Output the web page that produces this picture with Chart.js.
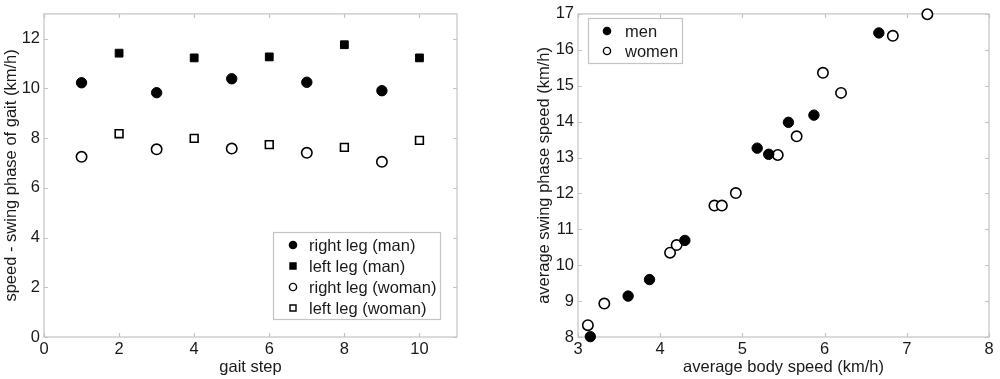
<!DOCTYPE html>
<html>
<head>
<meta charset="utf-8">
<script src="https://cdn.jsdelivr.net/npm/chart.js@4/dist/chart.umd.min.js"></script>
<style>
  html, body { margin: 0; padding: 0; background: #fff; }
  #wrap { position: relative; width: 1000px; height: 379px; }
  .box { position: absolute; top: 0; height: 379px; }
  #left { left: 0; width: 500px; }
  #right { left: 500px; width: 500px; }
</style>
</head>
<body>
<div id="wrap">
  <div class="box" id="left"><canvas id="gaitChart"></canvas></div>
  <div class="box" id="right"><canvas id="speedChart"></canvas></div>
</div>
<script>
"use strict";

// left panel: speed per gait step
const rightSteps = [1, 3, 5, 7, 9];
const leftSteps = [2, 4, 6, 8, 10];
const rightLegMan = [10.23, 9.83, 10.39, 10.25, 9.91];
const leftLegMan = [11.42, 11.23, 11.27, 11.76, 11.23];
const rightLegWoman = [7.25, 7.55, 7.58, 7.41, 7.05];
const leftLegWoman = [8.18, 7.99, 7.74, 7.63, 7.91];

// right panel: swing speed vs body speed
const menBody = [3.15, 3.61, 3.87, 4.30, 5.18, 5.32, 5.56, 5.87, 6.66];
const menSwing = [8.01, 9.14, 9.60, 10.69, 13.26, 13.09, 13.98, 14.18, 16.47];
const womenBody = [3.12, 3.32, 4.12, 4.20, 4.66, 4.75, 4.92, 5.43, 5.66, 5.98, 6.20, 6.83, 7.25];
const womenSwing = [8.33, 8.93, 10.35, 10.56, 11.66, 11.66, 12.01, 13.07, 13.59, 15.36, 14.80, 16.39, 16.99];

const FONT = "'Liberation Sans', Arial, sans-serif";
const TXT = '#1a1a1a';
const AXIS = '#c4c4c4';
const FS = 16.5;

Chart.defaults.font.family = FONT;
Chart.defaults.font.size = FS;
Chart.defaults.color = TXT;

function pts(xs, ys) {
    return xs.map((x, i) => ({ x: x, y: ys[i] }));
}

function series(label, data, shape, filled) {
    return {
        label: label,
        data: data,
        clip: false,
        pointStyle: shape,
        pointRadius: shape === 'rect' ? 5.5 : 5.2,
        pointHoverRadius: shape === 'rect' ? 5.5 : 5.2,
        pointBackgroundColor: filled ? '#000' : '#fff',
        pointBorderColor: '#000',
        pointBorderWidth: filled ? 1 : 1.6,
        showLine: false
    };
}

function drawMarker(ctx, shape, filled, x, y) {
    ctx.save();
    ctx.beginPath();
    if (shape === 'rect') {
        ctx.rect(x - 3, y - 3, 6, 6);
    } else {
        ctx.arc(x, y, 3.6, 0, Math.PI * 2);
    }
    ctx.fillStyle = filled ? '#000' : '#fff';
    ctx.fill();
    ctx.lineWidth = 1.4;
    ctx.strokeStyle = '#000';
    ctx.stroke();
    ctx.restore();
}

// box round the plot with small inward ticks on all four sides
const boxPlugin = {
    id: 'boxPlugin',
    beforeDatasetsDraw(chart) {
        const ctx = chart.ctx;
        const a = chart.chartArea;
        const xs = chart.scales.x, ys = chart.scales.y;
        ctx.save();
        ctx.strokeStyle = AXIS;
        ctx.lineWidth = 1.2;
        ctx.strokeRect(a.left, a.top, a.right - a.left, a.bottom - a.top);
        ctx.beginPath();
        xs.ticks.forEach(t => {
            const px = Math.round(xs.getPixelForValue(t.value)) + 0.5;
            ctx.moveTo(px, a.bottom); ctx.lineTo(px, a.bottom - 4);
            ctx.moveTo(px, a.top); ctx.lineTo(px, a.top + 4);
        });
        ys.ticks.forEach(t => {
            const py = Math.round(ys.getPixelForValue(t.value)) + 0.5;
            ctx.moveTo(a.left, py); ctx.lineTo(a.left + 4, py);
            ctx.moveTo(a.right, py); ctx.lineTo(a.right - 4, py);
        });
        ctx.stroke();
        ctx.restore();
    }
};

// legend box inside the plot area
const boxLegend = {
    id: 'boxLegend',
    afterDraw(chart, args, opts) {
        const ctx = chart.ctx;
        ctx.save();
        ctx.fillStyle = '#fff';
        ctx.fillRect(opts.x, opts.y, opts.w, opts.h);
        ctx.strokeStyle = AXIS;
        ctx.lineWidth = 1.2;
        ctx.strokeRect(opts.x + 0.5, opts.y + 0.5, opts.w, opts.h);
        ctx.font = FS + 'px ' + FONT;
        ctx.fillStyle = TXT;
        ctx.textBaseline = 'middle';
        chart.data.datasets.forEach((ds, i) => {
            const cy = opts.y + opts.first + i * opts.step;
            drawMarker(ctx, ds.pointStyle, ds.pointBackgroundColor === '#000', opts.x + opts.mx, cy);
            ctx.fillText(ds.label, opts.x + opts.tx, cy + 1);
        });
        ctx.restore();
    }
};

function axes(xmin, xmax, xstep, xtitle, ymin, ymax, ystep, ytitle, yWidth) {
    return {
        x: {
            type: 'linear', min: xmin, max: xmax,
            grid: { display: false, drawTicks: false },
            border: { display: false },
            ticks: { stepSize: xstep, includeBounds: false, padding: 3, color: TXT },
            title: { display: true, text: xtitle, color: TXT, padding: { top: 0, bottom: 2 } },
            afterFit(s) { s.height = 42; }
        },
        y: {
            type: 'linear', min: ymin, max: ymax,
            grid: { display: false, drawTicks: false },
            border: { display: false },
            ticks: { stepSize: ystep, includeBounds: false, padding: 4, color: TXT },
            title: { display: true, text: ytitle, color: TXT, padding: { top: 2, bottom: 0 } },
            afterFit(s) { s.width = yWidth; }
        }
    };
}

new Chart(document.getElementById('gaitChart'), {
    type: 'scatter',
    data: {
        datasets: [
            series('right leg (man)', pts(rightSteps, rightLegMan), 'circle', true),
            series('left leg (man)', pts(leftSteps, leftLegMan), 'rect', true),
            series('right leg (woman)', pts(rightSteps, rightLegWoman), 'circle', false),
            series('left leg (woman)', pts(leftSteps, leftLegWoman), 'rect', false)
        ]
    },
    options: {
        responsive: true,
        maintainAspectRatio: false,
        animation: false,
        layout: { padding: { left: 0, right: 43, top: 10, bottom: 0 } },
        scales: axes(0, 11, 2, 'gait step', 0, 13, 2, 'speed - swing phase of gait (km/h)', 44),
        plugins: {
            legend: { display: false },
            tooltip: { enabled: false },
            boxLegend: { x: 273, y: 232, w: 167, h: 87, mx: 20, tx: 36, first: 13, step: 21 }
        }
    },
    plugins: [boxPlugin, boxLegend]
});

new Chart(document.getElementById('speedChart'), {
    type: 'scatter',
    data: {
        datasets: [
            series('men', pts(menBody, menSwing), 'circle', true),
            series('women', pts(womenBody, womenSwing), 'circle', false)
        ]
    },
    options: {
        responsive: true,
        maintainAspectRatio: false,
        animation: false,
        layout: { padding: { left: 33, right: 11, top: 10, bottom: 0 } },
        scales: axes(3, 8, 1, 'average body speed (km/h)', 8, 17, 1, 'average swing phase speed (km/h)', 45),
        plugins: {
            legend: { display: false },
            tooltip: { enabled: false },
            boxLegend: { x: 88, y: 18, w: 94, h: 45, mx: 19, tx: 37, first: 13, step: 20 }
        }
    },
    plugins: [boxPlugin, boxLegend]
});
</script>
</body>
</html>
